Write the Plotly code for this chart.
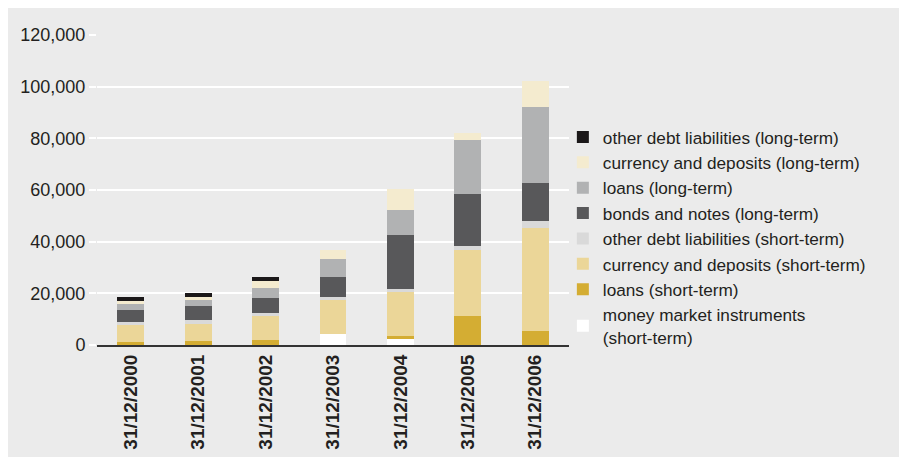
import plotly.graph_objects as go

categories = ["31/12/2000", "31/12/2001", "31/12/2002", "31/12/2003",
              "31/12/2004", "31/12/2005", "31/12/2006"]

money_market_st = [0, 0, 0, 4100, 2200, 0, 0]
loans_st = [1000, 1400, 1800, 0, 1150, 11200, 5400]
currency_st = [6600, 6600, 9300, 13500, 17000, 25500, 39900]
other_st = [1150, 1550, 1150, 1150, 1150, 1550, 2700]
bonds_lt = [4650, 5400, 5800, 7750, 20900, 20100, 14700]
loans_lt = [2300, 2300, 3850, 6950, 9700, 20900, 29400]
currency_lt = [1400, 1150, 2700, 3350, 8100, 2700, 10100]
other_lt = [1300, 1550, 1550, 0, 0, 0, 0]

series = [
    ("money market instruments<br>(short-term)", money_market_st, "#ffffff"),
    ("loans (short-term)", loans_st, "#d4ad33"),
    ("currency and deposits (short-term)", currency_st, "#ebd698"),
    ("other debt liabilities (short-term)", other_st, "#d9d9d9"),
    ("bonds and notes (long-term)", bonds_lt, "#58585a"),
    ("loans (long-term)", loans_lt, "#b1b2b3"),
    ("currency and deposits (long-term)", currency_lt, "#f4ebcf"),
    ("other debt liabilities (long-term)", other_lt, "#1b1819"),
]

fig = go.Figure()
for name, vals, col in series:
    fig.add_trace(go.Bar(x=categories, y=vals, name=name,
                         marker=dict(color=col, line=dict(width=0))))

font_family = "Liberation Sans, Arial, Helvetica, sans-serif"
fig.update_layout(
    barmode="stack",
    bargap=0.6,
    width=907, height=457,
    paper_bgcolor="#ebebeb",
    plot_bgcolor="#ebebeb",
    margin=dict(l=86, r=346, t=27, b=120),
    font=dict(family=font_family, size=18, color="#231f20"),
    legend=dict(
        traceorder="reversed",
        x=0.987, xanchor="left",
        y=0.728, yanchor="top",
        bgcolor="rgba(0,0,0,0)",
        font=dict(size=17.2, color="#231f20"),
        itemwidth=30,
        tracegroupgap=0,
    ),
    showlegend=True,
)
fig.update_yaxes(
    range=[0, 120000],
    tickvals=[0, 20000, 40000, 60000, 80000, 100000, 120000],
    tickformat=",",
    showgrid=True, gridcolor="#ffffff", gridwidth=2,
    zeroline=False,
    ticks="outside", ticklen=7, tickcolor="#ffffff", tickwidth=2,
    tickfont=dict(size=18),
)
fig.update_xaxes(
    tickangle=-90,
    tickfont=dict(size=19, family=font_family, color="#231f20", weight="bold"),
    showline=True, linecolor="#333333", linewidth=2,
    ticks="",
)

fig.write_html("out.html")
